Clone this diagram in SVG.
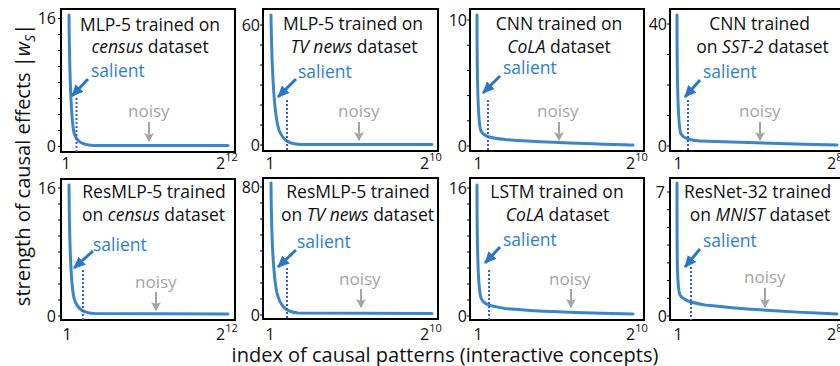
<svg xmlns="http://www.w3.org/2000/svg" width="840" height="366" viewBox="0 0 840 366">
<style>
text{font-family:"Open Sans","Noto Sans",sans-serif}
.box{fill:none;stroke:#000;stroke-width:2}
.curve{fill:none;stroke:#3B86C6;stroke-width:3;stroke-linecap:round;stroke-linejoin:round}
.dot{stroke:#3C5ADC;stroke-width:2;stroke-dasharray:2 2}
.tick{fill:none;stroke:#000;stroke-width:1}
.title{font-size:17.5px;fill:#111;text-anchor:middle}
.num{font-size:16px;fill:#111}
.yl{text-anchor:end}
.xl{text-anchor:middle}
.sup{font-size:11px}
.sal{font-size:17.5px;fill:#2E7FD0}
.noisy{font-size:17px;fill:#A5A5A5}
.sarrow{stroke:#2A78C4;stroke-width:3;marker-end:url(#ahb)}
.narrow{stroke:#A5A5A5;stroke-width:2;marker-end:url(#ahg)}
.axis{font-size:20px;fill:#111;text-anchor:middle}
.it{font-style:italic}
</style>
<defs>
<marker id="ahb" markerUnits="userSpaceOnUse" markerWidth="12" markerHeight="11" viewBox="0 0 12 11" refX="11" refY="5.5" orient="auto"><path d="M0,0 L12,5.5 L0,11 z" fill="#2A78C4"/></marker>
<marker id="ahg" markerUnits="userSpaceOnUse" markerWidth="9" markerHeight="10" viewBox="0 0 9 10" refX="8" refY="5" orient="auto"><path d="M0,0 L9,5 L0,10 L2,5 z" fill="#A5A5A5"/></marker>
</defs>
<rect width="840" height="366" fill="#fff"/>

<text class="axis" font-size="20.5" transform="translate(30,165) rotate(-90)">strength of causal effects |<tspan class="it">w</tspan><tspan class="it" font-size="14" dy="5">S</tspan><tspan dy="-5">|</tspan></text>
<text class="axis" x="445" y="361.5">index of causal patterns (interactive concepts)</text>

<g id="panel-1">
<rect class="box" x="61" y="9" width="174" height="143"/>
<path class="tick" d="M58,18.5h3M58,34.5h3M58,50.5h3M58,66.5h3M58,82.5h3M58,98.5h3M58,114.5h3M58,130.5h3M58,146.5h3"/>
<text class="num yl" x="56" y="24">16</text>
<text class="num yl" x="56" y="152">0</text>
<text class="num xl" x="66" y="169">1</text>
<text class="num" x="216" y="169">2<tspan class="sup" dy="-8">12</tspan></text>
<text class="title" x="150" y="30.5">MLP-5 trained on</text>
<text class="title" x="150" y="53"><tspan class="it">census</tspan> dataset</text>
<path class="curve" d="M69,15 C69.5,70 70.5,115 74,133 C77,142 82,145 95,145.5 L228,145.5"/>
<line class="dot" x1="76.5" y1="98" x2="76.5" y2="152"/>
<text class="sal" x="91" y="77">salient</text>
<text class="noisy" x="128" y="117">noisy</text>
</g>

<g id="panel-2">
<rect class="box" x="263" y="9" width="175" height="142"/>
<path class="tick" d="M260,25h3M260,45h3M260,65h3M260,85h3M260,105h3M260,125h3M260,145h3"/>
<text class="num yl" x="260" y="31">60</text>
<text class="num yl" x="260" y="151">0</text>
<text class="num xl" x="270" y="169">1</text>
<text class="num" x="420" y="169">2<tspan class="sup" dy="-8">10</tspan></text>
<text class="title" x="353" y="30">MLP-5 trained on</text>
<text class="title" x="354" y="52.5"><tspan class="it">TV news</tspan> dataset</text>
<path class="curve" d="M271,15 C272,80 274,115 279,130 C283,140 288,144 300,144.5 L432,144.5"/>
<line class="dot" x1="287" y1="100" x2="287" y2="151"/>
<text class="sal" x="298" y="78">salient</text>
<text class="noisy" x="338" y="117">noisy</text>
</g>

<g id="panel-3">
<rect class="box" x="470" y="9" width="174" height="142"/>
<path class="tick" d="M467,20h3M467,45.2h3M467,70.4h3M467,95.6h3M467,120.8h3M467,146h3"/>
<text class="num yl" x="467" y="25.5">10</text>
<text class="num yl" x="467" y="151.5">0</text>
<text class="num xl" x="478" y="169">1</text>
<text class="num" x="626" y="169">2<tspan class="sup" dy="-8">10</tspan></text>
<text class="title" x="559" y="30">CNN trained on</text>
<text class="title" x="559" y="52.5"><tspan class="it">CoLA</tspan> dataset</text>
<path class="curve" d="M477,15 C477,90 478,125 481,131 C484,137 492,138 505,139.5 C540,142.5 580,143.5 633,145"/>
<line class="dot" x1="488" y1="100" x2="488" y2="151"/>
<text class="sal" x="503" y="74">salient</text>
<text class="noisy" x="537" y="117">noisy</text>
</g>

<g id="panel-4">
<rect class="box" x="670" y="9" width="176" height="142"/>
<path class="tick" d="M667,24h3M667,54.5h3M667,85h3M667,115.5h3M667,146h3"/>
<text class="num yl" x="667" y="29.5">40</text>
<text class="num yl" x="667" y="151.5">0</text>
<text class="num xl" x="678" y="169">1</text>
<text class="num" x="827" y="169">2<tspan class="sup" dy="-8">8</tspan></text>
<text class="title" x="759.5" y="30">CNN trained</text>
<text class="title" x="762.5" y="53">on <tspan class="it">SST-2</tspan> dataset</text>
<path class="curve" d="M677,15 C677,95 678,128 681,134 C684,139 690,140.5 700,141 C740,142.5 790,144 837,145"/>
<line class="dot" x1="688" y1="100" x2="688" y2="151"/>
<text class="sal" x="703" y="78">salient</text>
<text class="noisy" x="739" y="117">noisy</text>
</g>

<g id="panel-5">
<rect class="box" x="61" y="179" width="174" height="141"/>
<path class="tick" d="M58,188h3M58,204h3M58,220h3M58,236h3M58,252h3M58,268h3M58,284h3M58,300h3M58,316h3"/>
<text class="num yl" x="56" y="193.5">16</text>
<text class="num yl" x="56" y="321.5">0</text>
<text class="num xl" x="67" y="339.5">1</text>
<text class="num" x="216" y="339.5">2<tspan class="sup" dy="-8">12</tspan></text>
<text class="title" x="154" y="198">ResMLP-5 trained</text>
<text class="title" x="153.5" y="221">on <tspan class="it">census</tspan> dataset</text>
<path class="curve" d="M69,185 C69.5,250 71,285 74,298 C77,309 83,313 95,313.5 L228,314"/>
<line class="dot" x1="83" y1="270" x2="83" y2="320"/>
<text class="sal" x="93" y="251">salient</text>
<text class="noisy" x="135" y="288">noisy</text>
</g>

<g id="panel-6">
<rect class="box" x="263" y="178" width="175" height="141"/>
<path class="tick" d="M260,187h3M260,203h3M260,219h3M260,235h3M260,251h3M260,267h3M260,283h3M260,299h3M260,315h3"/>
<text class="num yl" x="260" y="192.5">80</text>
<text class="num yl" x="260" y="320.5">0</text>
<text class="num xl" x="270" y="339.5">1</text>
<text class="num" x="420" y="339.5">2<tspan class="sup" dy="-8">10</tspan></text>
<text class="title" x="358" y="198">ResMLP-5 trained</text>
<text class="title" x="357.5" y="221">on <tspan class="it">TV news</tspan> dataset</text>
<path class="curve" d="M271,183 C271.5,245 273,275 277,293 C280,305 285,312 298,313 L432,313.5"/>
<line class="dot" x1="287" y1="268" x2="287" y2="319"/>
<text class="sal" x="297" y="248">salient</text>
<text class="noisy" x="339" y="285">noisy</text>
</g>

<g id="panel-7">
<rect class="box" x="470" y="178" width="174" height="142"/>
<path class="tick" d="M467,188h3M467,204h3M467,220h3M467,236h3M467,252h3M467,268h3M467,284h3M467,300h3M467,316h3"/>
<text class="num yl" x="467" y="193.5">16</text>
<text class="num yl" x="467" y="321.5">0</text>
<text class="num xl" x="478" y="339.5">1</text>
<text class="num" x="626" y="339.5">2<tspan class="sup" dy="-8">10</tspan></text>
<text class="title" x="557" y="198">LSTM trained on</text>
<text class="title" x="557.5" y="221"><tspan class="it">CoLA</tspan> dataset</text>
<path class="curve" d="M477,185 C477,260 478,290 481,298 C484,305 490,306 505,308.5 C540,312 580,313 633,314"/>
<line class="dot" x1="489" y1="270" x2="489" y2="320"/>
<text class="sal" x="503" y="246">salient</text>
<text class="noisy" x="549" y="285">noisy</text>
</g>

<g id="panel-8">
<rect class="box" x="670" y="178" width="176" height="142"/>
<path class="tick" d="M667,192h3M667,209.7h3M667,227.4h3M667,245.1h3M667,262.9h3M667,280.6h3M667,298.3h3M667,316h3"/>
<text class="num yl" x="665" y="197.5">7</text>
<text class="num yl" x="667" y="321.5">0</text>
<text class="num xl" x="678" y="339.5">1</text>
<text class="num" x="827" y="339.5">2<tspan class="sup" dy="-8">8</tspan></text>
<text class="title" x="757.5" y="198">ResNet-32 trained</text>
<text class="title" x="760" y="221">on <tspan class="it">MNIST</tspan> dataset</text>
<path class="curve" d="M677,183 C677,260 677,288 680,295 C684,301 690,302 705,305 C740,309 790,312 837,314"/>
<line class="dot" x1="691" y1="267" x2="691" y2="320"/>
<text class="sal" x="703" y="247">salient</text>
<text class="noisy" x="744" y="283">noisy</text>
</g>

<g id="connectors">
<line class="sarrow" x1="88" y1="79" x2="72" y2="96"/>
<line class="sarrow" x1="296" y1="79" x2="278" y2="97"/>
<line class="sarrow" x1="500" y1="76" x2="483" y2="93"/>
<line class="sarrow" x1="700" y1="80" x2="685" y2="97"/>
<line class="sarrow" x1="93" y1="251" x2="74" y2="268"/>
<line class="sarrow" x1="296" y1="250" x2="278" y2="267"/>
<line class="sarrow" x1="500" y1="247" x2="485" y2="263"/>
<line class="sarrow" x1="700" y1="249" x2="685" y2="267"/>
<line class="narrow" x1="149" y1="122" x2="149" y2="141"/>
<line class="narrow" x1="359" y1="122" x2="359" y2="140"/>
<line class="narrow" x1="559" y1="122" x2="559" y2="140"/>
<line class="narrow" x1="760" y1="122" x2="760" y2="140"/>
<line class="narrow" x1="156" y1="292" x2="156" y2="310"/>
<line class="narrow" x1="361" y1="289" x2="361" y2="307"/>
<line class="narrow" x1="571" y1="289" x2="571" y2="307"/>
<line class="narrow" x1="765" y1="288" x2="765" y2="307"/>
</g>
</svg>
